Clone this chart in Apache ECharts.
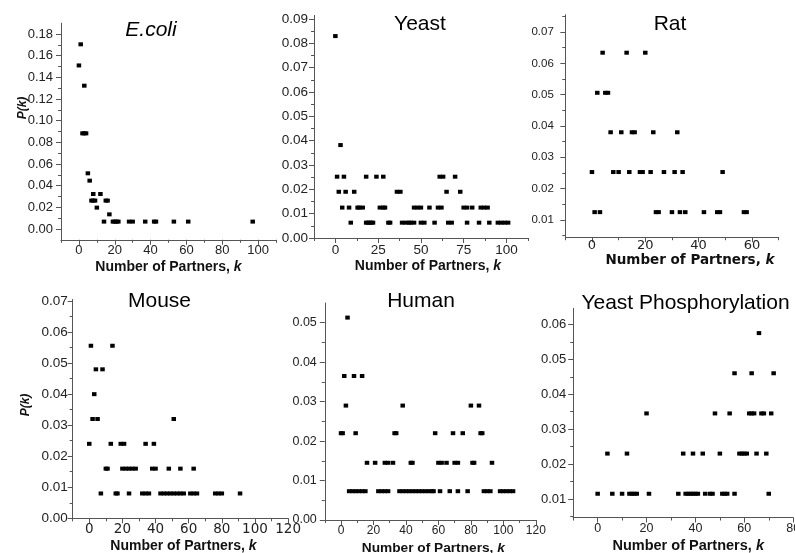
<!DOCTYPE html>
<html><head><meta charset="utf-8">
<script src="https://cdn.jsdelivr.net/npm/echarts@6/dist/echarts.min.js"></script>
<style>html,body{margin:0;padding:0;background:#fff}#c{width:795px;height:553px}</style>
</head><body><div id="c"></div>
<script>
// ---------- data ----------
const panelTitles = ['E.coli', 'Yeast', 'Rat', 'Mouse', 'Human', 'Yeast Phosphorylation'];
const xAxisTitle = 'Number of Partners, {i|k}';
const yAxisTitle = 'P(k)';

// [k, P(k)] pairs
const ecoliData = [
  [0,0.151],[1,0.1705],[3,0.1323],[2,0.0883],[3,0.0883],[4,0.0883],[5,0.0514],[6,0.0446],
  [8,0.0323],[12,0.0323],[7,0.0262],[8,0.0262],[9,0.0262],[15,0.0262],[16,0.0262],[10,0.0197],
  [17,0.0135],[14,0.0068],[19,0.0068],[20,0.0068],[21,0.0068],[22,0.0068],[28,0.0068],[30,0.0068],
  [37,0.0068],[42,0.0068],[43,0.0068],[53,0.0068],[61,0.0068],[97,0.0068]
];
const yeastData = [
  [0,0.083],[3,0.0382],
  [1,0.0252],[5,0.0252],[18,0.0252],[24,0.0252],[28,0.0252],[61,0.0252],[63,0.0252],[70,0.0252],
  [2,0.019],[6,0.019],[11,0.019],[36,0.019],[38,0.019],[65,0.019],[73,0.019],
  [4,0.0125],[8,0.0125],[13,0.0125],[14,0.0125],[16,0.0125],[26,0.0125],[28,0.0125],[29,0.0125],
  [46,0.0125],[48,0.0125],[50,0.0125],[55,0.0125],[60,0.0125],[62,0.0125],[75,0.0125],[77,0.0125],
  [80,0.0125],[85,0.0125],[87,0.0125],[89,0.0125],
  [9,0.0063],[18,0.0063],[19,0.0063],[20,0.0063],[21,0.0063],[22,0.0063],[31,0.0063],[32,0.0063],
  [39,0.0063],[41,0.0063],[43,0.0063],[44,0.0063],[46,0.0063],[50,0.0063],[52,0.0063],[58,0.0063],
  [66,0.0063],[68,0.0063],[77,0.0063],[84,0.0063],[90,0.0063],[95,0.0063],[97,0.0063],[99,0.0063],[101,0.0063]
];
const ratData = [
  [4,0.0634],[13,0.0634],[20,0.0634],
  [2,0.0506],[5,0.0506],[6,0.0506],
  [7,0.038],[11,0.038],[15,0.038],[16,0.038],[23,0.038],[32,0.038],
  [0,0.0253],[8,0.0253],[10,0.0253],[14,0.0253],[18,0.0253],[19,0.0253],[22,0.0253],[27,0.0253],
  [31,0.0253],[34,0.0253],[49,0.0253],
  [1,0.0125],[3,0.0125],[24,0.0125],[25,0.0125],[30,0.0125],[33,0.0125],[35,0.0125],[42,0.0125],
  [47,0.0125],[48,0.0125],[57,0.0125],[58,0.0125]
];
const mouseData = [
  [1,0.0556],[14,0.0556],
  [4,0.048],[8,0.048],
  [3,0.04],
  [2,0.032],[5,0.032],[51,0.032],
  [0,0.024],[13,0.024],[19,0.024],[21,0.024],[34,0.024],[39,0.024],
  [10,0.016],[11,0.016],[20,0.016],[22,0.016],[24,0.016],[26,0.016],[28,0.016],[38,0.016],[40,0.016],
  [48,0.016],[55,0.016],[63,0.016],
  [7,0.008],[16,0.008],[17,0.008],[24,0.008],[32,0.008],[34,0.008],[36,0.008],[43,0.008],[45,0.008],
  [47,0.008],[49,0.008],[51,0.008],[53,0.008],[55,0.008],[57,0.008],[61,0.008],[63,0.008],[65,0.008],
  [76,0.008],[78,0.008],[80,0.008],[91,0.008]
];
const humanData = [
  [4,0.0513],
  [2,0.0365],[8,0.0365],[13,0.0365],
  [3,0.029],[38,0.029],[80,0.029],[85,0.029],
  [0,0.022],[1,0.022],[9,0.022],[33,0.022],[34,0.022],[58,0.022],[69,0.022],[75,0.022],[86,0.022],[87,0.022],
  [16,0.0145],[21,0.0145],[27,0.0145],[29,0.0145],[32,0.0145],[43,0.0145],[44,0.0145],[60,0.0145],
  [62,0.0145],[65,0.0145],[70,0.0145],[72,0.0145],[81,0.0145],[82,0.0145],[93,0.0145],
  [5,0.0073],[7,0.0073],[9,0.0073],[11,0.0073],[13,0.0073],[15,0.0073],[23,0.0073],[25,0.0073],
  [27,0.0073],[29,0.0073],[36,0.0073],[38,0.0073],[40,0.0073],[42,0.0073],[44,0.0073],[46,0.0073],
  [48,0.0073],[50,0.0073],[52,0.0073],[54,0.0073],[56,0.0073],[57,0.0073],[61,0.0073],[67,0.0073],
  [72,0.0073],[78,0.0073],[88,0.0073],[90,0.0073],[92,0.0073],[98,0.0073],[100,0.0073],[102,0.0073],
  [104,0.0073],[106,0.0073]
];
const phosData = [
  [66,0.0575],
  [56,0.046],[63,0.046],[72,0.046],
  [20,0.0345],[48,0.0345],[54,0.0345],[62,0.0345],[63,0.0345],[64,0.0345],[67,0.0345],[68,0.0345],[71,0.0345],
  [4,0.023],[12,0.023],[35,0.023],[39,0.023],[43,0.023],[50,0.023],[58,0.023],[59,0.023],[60,0.023],
  [61,0.023],[65,0.023],[69,0.023],
  [0,0.0115],[6,0.0115],[10,0.0115],[13,0.0115],[14,0.0115],[15,0.0115],[16,0.0115],[21,0.0115],
  [33,0.0115],[36,0.0115],[37,0.0115],[38,0.0115],[39,0.0115],[40,0.0115],[41,0.0115],[44,0.0115],
  [46,0.0115],[47,0.0115],[51,0.0115],[52,0.0115],[53,0.0115],[56,0.0115],[70,0.0115]
];
const panelData = [ecoliData, yeastData, ratData, mouseData, humanData, phosData];

// axis ranges
const xRanges = [[-10,110],[-12.5,112.5],[-10,70],[-10,120],[-10,120],[-10,80]];
const yRanges = [[-0.01,0.19],[0,0.0915],[0.0045,0.0755],[0,0.0705],[0,0.055],[0.0047,0.0646]];

// tick labels
const xTickLabels = [
  [0,20,40,60,80,100],[0,25,50,75,100],[0,20,40,60],
  [0,20,40,60,80,100,120],[0,20,40,60,80,100,120],[0,20,40,60,80]
];
const xMinorTicks = [
  [-10,10,30,50,70,90,110],[-12.5,12.5,37.5,62.5,87.5,112.5],[-10,10,30,50,70],
  [-10,10,30,50,70,90,110],[-10,10,30,50,70,90,110],[-10,10,30,50,70]
];
const yTickLabels = [
  [0,0.02,0.04,0.06,0.08,0.10,0.12,0.14,0.16,0.18],
  [0,0.01,0.02,0.03,0.04,0.05,0.06,0.07,0.08,0.09],
  [0.01,0.02,0.03,0.04,0.05,0.06,0.07],
  [0,0.01,0.02,0.03,0.04,0.05,0.06,0.07],
  [0,0.01,0.02,0.03,0.04,0.05],
  [0.01,0.02,0.03,0.04,0.05,0.06]
];
const yMinorTicks = [
  [0.01,0.03,0.05,0.07,0.09,0.11,0.13,0.15,0.17],
  [0.005,0.015,0.025,0.035,0.045,0.055,0.065,0.075,0.085],
  [0.005,0.015,0.025,0.035,0.045,0.055,0.065,0.075],
  [0.005,0.015,0.025,0.035,0.045,0.055,0.065],
  [0.005,0.015,0.025,0.035,0.045],
  [0.005,0.015,0.025,0.035,0.045,0.055]
];

// ---------- layout / style ----------
const LIB = '"Liberation Sans", Arial, Helvetica, sans-serif';
const DJV = '"DejaVu Sans", Verdana, sans-serif';
const gridBoxes = [
  {left:61,    top:23.2,  width:215,   height:216.6},
  {left:314,   top:15.4,  width:213.8, height:222.6},
  {left:565.3, top:14.8,  width:213.3, height:222.4},
  {left:72.7,  top:299.5, width:215.4, height:218.8},
  {left:324.8, top:303,   width:211,   height:217},
  {left:573.2, top:308.3, width:220,   height:209.2}
];
const yLabelStyle = [
  {font:LIB, size:13, margin:8}, {font:LIB, size:13.5, margin:6}, {font:LIB, size:11.5, margin:11.5},
  {font:LIB, size:13.5, margin:5}, {font:LIB, size:12.5, margin:8}, {font:LIB, size:13, margin:7}
];
const xLabelStyle = [
  {font:LIB, size:13, margin:4.5}, {font:LIB, size:13.5, margin:5.5}, {font:DJV, size:13, margin:2},
  {font:DJV, size:13.5, margin:4}, {font:LIB, size:12, margin:5}, {font:LIB, size:12.5, margin:4.5}
];
const nameStyle = [
  {font:LIB, size:14, gap:20, pad:0}, {font:LIB, size:14, gap:21, pad:14}, {font:DJV, size:13.5, gap:15.5, pad:36},
  {font:LIB, size:14, gap:21, pad:6}, {font:LIB, size:13.7, gap:21, pad:6}, {font:LIB, size:14.5, gap:21, pad:10}
];
const titlePos = [[151,20,'italic'],[420,13.5,'normal'],[670,13.5,'normal'],[159.5,290.5,'normal'],[421,290.5,'normal'],[685.5,292.5,'normal']];
const AX = '#555';

const grids = [], xAxes = [], yAxes = [], series = [], graphics = [];
for (let i = 0; i < 6; i++) {
  grids.push(Object.assign({outerBoundsMode:'none', containLabel:false, show:false}, gridBoxes[i]));
  const xl = xLabelStyle[i], yl = yLabelStyle[i], ns = nameStyle[i];
  xAxes.push({
    gridIndex:i, type:'value', position:'bottom', min:xRanges[i][0], max:xRanges[i][1],
    axisLine:{show:true, onZero:false, lineStyle:{color:AX, width:1}},
    axisTick:{show:true, inside:false, length:5, customValues:xTickLabels[i], lineStyle:{color:AX, width:1}},
    axisLabel:{customValues:xTickLabels[i], margin:xl.margin, fontSize:xl.size, fontFamily:xl.font, color:'#222'},
    splitLine:{show:false},
    name:xAxisTitle, nameLocation:'middle', nameGap:ns.gap,
    nameTextStyle:{fontFamily:ns.font, fontSize:ns.size, fontWeight:'bold', color:'#111', padding:[0,0,0,ns.pad],
      rich:{i:{fontFamily:ns.font, fontSize:ns.size, fontWeight:'bold', fontStyle:'italic', color:'#111'}}}
  });
  xAxes.push({
    gridIndex:i, type:'value', position:'bottom', min:xRanges[i][0], max:xRanges[i][1],
    axisLine:{show:false, onZero:false}, axisLabel:{show:false}, splitLine:{show:false},
    axisTick:{show:true, inside:false, length:3, customValues:xMinorTicks[i], lineStyle:{color:AX, width:1}}
  });
  yAxes.push({
    gridIndex:i, type:'value', position:'left', min:yRanges[i][0], max:yRanges[i][1],
    axisLine:{show:true, onZero:false, lineStyle:{color:AX, width:1}},
    axisTick:{show:true, inside:false, length:5, customValues:yTickLabels[i], lineStyle:{color:AX, width:1}},
    axisLabel:{customValues:yTickLabels[i], margin:yl.margin, fontSize:yl.size, fontFamily:yl.font, color:'#222',
      formatter:(v) => Number(v).toFixed(2)},
    splitLine:{show:false}
  });
  yAxes.push({
    gridIndex:i, type:'value', position:'left', min:yRanges[i][0], max:yRanges[i][1],
    axisLine:{show:false, onZero:false}, axisLabel:{show:false}, splitLine:{show:false},
    axisTick:{show:true, inside:false, length:3, customValues:yMinorTicks[i], lineStyle:{color:AX, width:1}}
  });
  series.push({
    type:'scatter', xAxisIndex:2*i, yAxisIndex:2*i, data:panelData[i],
    symbol:'rect', symbolSize:[4.5,4], itemStyle:{color:'#000', opacity:1}, silent:true
  });
  graphics.push({
    type:'text', x:titlePos[i][0], y:titlePos[i][1],
    style:{text:panelTitles[i], font:titlePos[i][2] + ' 21px ' + LIB, fill:'#000', align:'center', verticalAlign:'top'}
  });
}
graphics.push({type:'text', x:23, y:108, rotation:Math.PI/2,
  style:{text:yAxisTitle, font:'italic bold 12px ' + LIB, fill:'#111', align:'center', verticalAlign:'middle'}});
graphics.push({type:'text', x:26, y:405, rotation:Math.PI/2,
  style:{text:yAxisTitle, font:'italic bold 12px ' + LIB, fill:'#111', align:'center', verticalAlign:'middle'}});

const chart = echarts.init(document.getElementById('c'), null, {renderer:'canvas'});
chart.setOption({
  animation:false, backgroundColor:'#fff',
  grid:grids, xAxis:xAxes, yAxis:yAxes, series:series, graphic:graphics
});
</script></body></html>
